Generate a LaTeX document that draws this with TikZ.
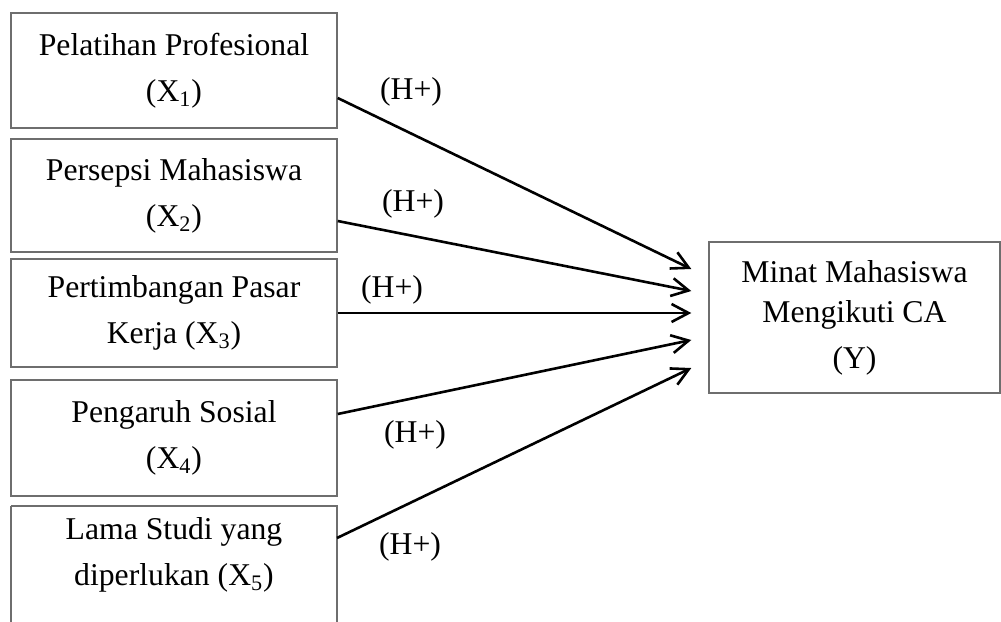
\documentclass[tikz,border=0pt]{standalone}
\usepackage{fontspec}
\setmainfont{Liberation Serif}
\usetikzlibrary{arrows.meta,calc}
\definecolor{boxgray}{RGB}{110,110,110}
\begin{document}
\begin{tikzpicture}[x=0.5pt,y=-0.5pt,
  font=\fontsize{15.85pt}{23pt}\selectfont,
  box/.style={draw=boxgray,line width=0.7pt,align=center,inner sep=0pt,minimum width=163pt},
  arr/.style={draw=black,line width=1.3pt,-{Straight Barb[length=8.5pt,width=9pt]}},
  hlab/.style={inner sep=0pt}]
\clip (0,0) rectangle (1001,621);
\fill[white] (0,0) rectangle (1001,621);
% left boxes
\node[box,minimum height=57.5pt] (b1) at (174,70.5) {Pelatihan Profesional\\(X\textsubscript{1})};
\node[box,minimum height=56.5pt] (b2) at (174,195.5) {Persepsi Mahasiswa\\(X\textsubscript{2})};
\node[box,minimum height=54pt] (b3) at (174,313) {Pertimbangan Pasar\\Kerja (X\textsubscript{3})};
\node[box,minimum height=58pt] (b4) at (174,438) {Pengaruh Sosial\\(X\textsubscript{4})};
\node[box,draw=none,outer sep=0pt,minimum height=49pt] (b5) at (174,555) {Lama Studi yang\\diperlukan (X\textsubscript{5})};
\draw[draw=boxgray,line width=0.7pt] (b5.north west) -- ++(0,140) (b5.north west) -- (b5.north east) -- ++(0,140);
% right box
\node[box,minimum width=145.5pt,minimum height=75.5pt] (y) at (854.5,317.5) {Minat Mahasiswa\\[-3pt]Mengikuti CA\\(Y)};
% arrows
\draw[arr] ($(b1.east)+(0,27.5)$) -- ($(y.west)+(-17,-48.5)$);
\draw[arr] ($(b2.east)+(0,25.5)$) -- ($(y.west)+(-17,-26.5)$);
\draw[arr] (b3.east) -- ($(y.west)+(-17,-4.5)$);
\draw[arr] ($(b4.east)+(0,-24)$) -- ($(y.west)+(-17,22.5)$);
\draw[arr] ($(b5.north east)+(0,32)$) -- ($(y.west)+(-17,50.5)$);
% labels
\node[hlab] (h1) at (411,92) {(H+)};
\node[hlab] (h2) at (413,204) {(H+)};
\node[hlab] (h3) at (392,290) {(H+)};
\node[hlab] (h4) at (415,435) {(H+)};
\node[hlab] (h5) at (410,547) {(H+)};
\end{tikzpicture}
\end{document}
